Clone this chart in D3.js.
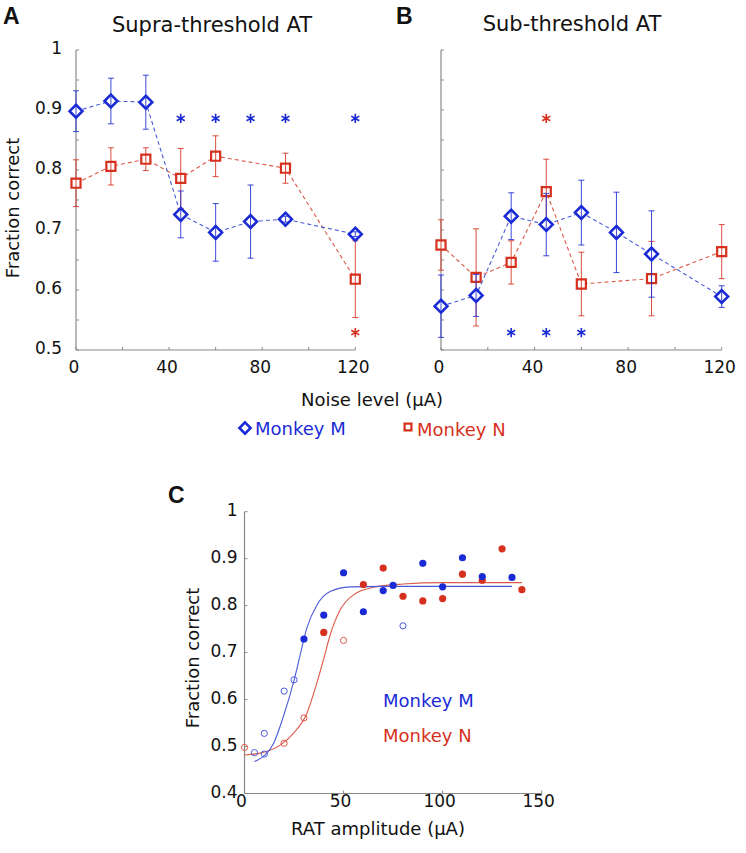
<!DOCTYPE html>
<html>
<head>
<meta charset="utf-8">
<script src="https://cdn.jsdelivr.net/npm/d3@7"></script>
<style>
  body { margin: 0; background: #fff; }
  text { font-family: "DejaVu Sans", sans-serif; fill: #111; }
</style>
</head>
<body>
<div id="chart"></div>
<script>
// panel A / B data (noise level in uA, fraction correct, error half-width)
const noiseM = [0, 15, 30, 45, 60, 75, 90, 120];
const noiseN = [0, 15, 30, 45, 60, 90, 120];

const supraM = [0.898, 0.915, 0.913, 0.726, 0.696, 0.714, 0.718, 0.693];
const supraMerr = [0.034, 0.038, 0.045, 0.039, 0.048, 0.061, 0.005, 0.004];
const supraN = [0.778, 0.806, 0.818, 0.786, 0.823, 0.803, 0.618];
const supraNerr = [0.039, 0.031, 0.019, 0.05, 0.034, 0.025, 0.064];

const subM = [0.573, 0.591, 0.723, 0.709, 0.729, 0.696, 0.660, 0.589];
const subMerr = [0.052, 0.035, 0.039, 0.052, 0.054, 0.067, 0.072, 0.018];
const subN = [0.675, 0.621, 0.646, 0.764, 0.610, 0.619, 0.664];
const subNerr = [0.042, 0.081, 0.036, 0.054, 0.053, 0.062, 0.045];

// significance stars
const starsSupraM = [45, 60, 75, 90, 120];
const starsSupraN = [120];
const starsSubM = [30, 45, 60];
const starsSubN = [45];

// panel C data (RAT amplitude, fraction correct)
const ratMfilledX = [30, 40, 50, 60, 70, 75, 90, 100, 110, 120, 135];
const ratMfilledY = [0.729, 0.780, 0.870, 0.787, 0.832, 0.843, 0.890, 0.840, 0.902, 0.862, 0.860];
const ratMopenX = [5, 10, 10, 20, 25, 80];
const ratMopenY = [0.487, 0.528, 0.484, 0.618, 0.642, 0.757];
const ratNfilledX = [40, 60, 70, 80, 90, 100, 110, 120, 130, 140];
const ratNfilledY = [0.743, 0.845, 0.880, 0.820, 0.810, 0.815, 0.867, 0.854, 0.921, 0.834];
const ratNopenX = [0, 20, 30, 50];
const ratNopenY = [0.498, 0.507, 0.561, 0.726];

// fitted curves
const fitMx = [5, 10.4, 14.6, 19.7, 24.7, 28.1, 31.5, 36.5, 43.2, 53.3, 70, 100, 135];
const fitMy = [0.468, 0.482, 0.506, 0.565, 0.636, 0.695, 0.753, 0.801, 0.830, 0.840, 0.841, 0.841, 0.841];
const fitNx = [0, 8, 18, 24.7, 31.5, 36.5, 39.8, 43.2, 48.3, 55, 65, 80, 100, 140];
const fitNy = [0.482, 0.486, 0.503, 0.528, 0.571, 0.635, 0.684, 0.737, 0.791, 0.823, 0.839, 0.846, 0.849, 0.849];

const yTicksAB = [0.5, 0.6, 0.7, 0.8, 0.9, 1];
const xTicksAB = [0, 40, 80, 120];
const yTicksC = [0.4, 0.5, 0.6, 0.7, 0.8, 0.9, 1];
const xTicksC = [0, 50, 100, 150];

const blue = "#1a2bd6", red = "#d6301e";
const blueLight = "#4a5bd8", redLight = "#dd5a48";
const axisColor = "#8a8a8a";

const width = 746, height = 853;
const svg = d3.select("#chart").append("svg")
    .attr("width", width)
    .attr("height", height);

// draw one axes frame (left + bottom, inward ticks)
function drawAxes(x, y, opts) {
  const g = svg.append("g");
  const [x0, x1] = x.range();
  const [y0, y1] = y.range();
  g.append("line").attr("x1", x0).attr("x2", x0).attr("y1", y0).attr("y2", y1)
    .attr("stroke", axisColor).attr("stroke-width", 1.2);
  g.append("line").attr("x1", x0).attr("x2", x1).attr("y1", y0).attr("y2", y0)
    .attr("stroke", axisColor).attr("stroke-width", 1.2);
  opts.yTickVals.forEach(v => {
    g.append("line").attr("x1", x0).attr("x2", x0 + 3).attr("y1", y(v)).attr("y2", y(v))
      .attr("stroke", axisColor);
  });
  opts.xTickVals.forEach(v => {
    g.append("line").attr("x1", x(v)).attr("x2", x(v)).attr("y1", y0).attr("y2", y0 - 3)
      .attr("stroke", axisColor);
  });
  if (opts.yLabels) {
    g.selectAll(".ytl").data(opts.yLabels).join("text")
      .attr("x", x0 - 14).attr("y", d => y(d) + 4)
      .attr("text-anchor", "end").style("font-size", "17px")
      .text(d => d3.format("")(d));
  }
  g.selectAll(".xtl").data(opts.xLabels).join("text")
    .attr("x", d => x(d) - 2).attr("y", y0 + opts.xLabelDy)
    .attr("text-anchor", "middle").style("font-size", "17px")
    .text(d => d);
  return g;
}

function errorPanel(x, y, xs, ys, es, color, lineColor, symbolType, size, sw) {
  const g = svg.append("g");
  const pts = xs.map((d, i) => [d, ys[i], es[i]]);
  g.append("path")
    .attr("d", d3.line().x(d => x(d[0])).y(d => y(d[1]))(pts))
    .attr("fill", "none").attr("stroke", lineColor).attr("stroke-width", 1.1)
    .attr("stroke-dasharray", "4,3");
  g.selectAll(".mk").data(pts).join("path")
    .attr("transform", d => `translate(${x(d[0])},${y(d[1])})`)
    .attr("d", d3.symbol().type(symbolType).size(size))
    .attr("fill", "#fff").attr("stroke", color).attr("stroke-width", sw);
  pts.forEach(d => {
    const cx = x(d[0]), top = y(d[1] + d[2]), bot = y(d[1] - d[2]);
    g.append("line").attr("x1", cx).attr("x2", cx).attr("y1", top).attr("y2", bot)
      .attr("stroke", color).attr("stroke-width", 1).attr("opacity", 0.85);
    [top, bot].forEach(yy => g.append("line")
      .attr("x1", cx - 3).attr("x2", cx + 3).attr("y1", yy).attr("y2", yy)
      .attr("stroke", color).attr("stroke-width", 1).attr("opacity", 0.85));
  });
}

function stars(x, y, xs, yv, color) {
  svg.append("g").selectAll("path").data(xs).join("path")
    .attr("transform", d => `translate(${x(d)},${y(yv)})`)
    .attr("d", d3.symbol().type(d3.symbolAsterisk).size(60))
    .attr("fill", "none").attr("stroke", color).attr("stroke-width", 1.6);
}

const yAB = d3.scaleLinear().domain([0.5, 1]).range([350, 50]);
const xA = d3.scaleLinear().domain([0, 120]).range([76, 355.3]);
const xB = d3.scaleLinear().domain([0, 120]).range([441, 721.7]);
const minorY = d3.range(0.5, 1.001, 0.05);
const minorX = d3.range(0, 121, 20);

// panel A
drawAxes(xA, yAB, { yTickVals: minorY, xTickVals: minorX, yLabels: yTicksAB, xLabels: xTicksAB, xLabelDy: 23 });
errorPanel(xA, yAB, noiseN, supraN, supraNerr, red, redLight, d3.symbolSquare2, 105, 2.2);
errorPanel(xA, yAB, noiseM, supraM, supraMerr, blue, blueLight, d3.symbolDiamond2, 105, 2.6);
stars(xA, yAB, starsSupraM, 0.886, blue);
stars(xA, yAB, starsSupraN, 0.529, red);

// panel B
drawAxes(xB, yAB, { yTickVals: minorY, xTickVals: minorX, yLabels: null, xLabels: xTicksAB, xLabelDy: 23 });
errorPanel(xB, yAB, noiseN, subN, subNerr, red, redLight, d3.symbolSquare2, 105, 2.2);
errorPanel(xB, yAB, noiseM, subM, subMerr, blue, blueLight, d3.symbolDiamond2, 105, 2.6);
stars(xB, yAB, starsSubN, 0.886, red);
stars(xB, yAB, starsSubM, 0.529, blue);

// titles and labels
svg.append("text").attr("x", 212).attr("y", 32).attr("text-anchor", "middle")
  .style("font-size", "21px").text("Supra-threshold AT");
svg.append("text").attr("x", 572).attr("y", 31).attr("text-anchor", "middle")
  .style("font-size", "21px").text("Sub-threshold AT");
svg.append("text").attr("transform", "translate(19,208) rotate(-90)").attr("text-anchor", "middle")
  .style("font-size", "18px").text("Fraction correct");
svg.append("text").attr("x", 372).attr("y", 406).attr("text-anchor", "middle")
  .style("font-size", "18px").text("Noise level (μA)");

[["A", 3, 24], ["B", 396, 24], ["C", 168, 503]].forEach(([t, px, py]) => {
  svg.append("text").attr("x", px).attr("y", py)
    .style("font-family", "'Liberation Sans', Arial, sans-serif")
    .style("font-weight", "bold").style("font-size", "23px").text(t);
});

// legend A/B
svg.append("path").attr("transform", "translate(245,428)")
  .attr("d", d3.symbol().type(d3.symbolDiamond2).size(80)())
  .attr("fill", "none").attr("stroke", blue).attr("stroke-width", 2.6);
svg.append("text").attr("x", 255).attr("y", 434.5).style("font-size", "18px")
  .style("fill", blue).text("Monkey M");
svg.append("path").attr("transform", "translate(408,427)")
  .attr("d", d3.symbol().type(d3.symbolSquare2).size(60)())
  .attr("fill", "none").attr("stroke", red).attr("stroke-width", 2.2);
svg.append("text").attr("x", 417).attr("y", 436).style("font-size", "18px")
  .style("fill", red).text("Monkey N");

// panel C
const xC = d3.scaleLinear().domain([0, 150]).range([244.5, 541.7]);
const yC = d3.scaleLinear().domain([0.4, 1]).range([793.5, 511.7]);
const gC = svg.append("g");
const [cx0, cx1] = xC.range(), [cy0, cy1] = yC.range();
gC.append("line").attr("x1", cx0).attr("x2", cx0).attr("y1", cy0).attr("y2", cy1)
  .attr("stroke", axisColor).attr("stroke-width", 1.2);
gC.append("line").attr("x1", cx0).attr("x2", cx1).attr("y1", cy0).attr("y2", cy0)
  .attr("stroke", axisColor).attr("stroke-width", 1.2);
yTicksC.forEach(v => {
  gC.append("line").attr("x1", cx0).attr("x2", cx0 + 3).attr("y1", yC(v)).attr("y2", yC(v))
    .attr("stroke", axisColor);
  gC.append("text").attr("x", cx0 - 7).attr("y", yC(v) + 4).attr("text-anchor", "end")
    .style("font-size", "17px").text(v);
});
xTicksC.forEach(v => {
  gC.append("line").attr("x1", xC(v)).attr("x2", xC(v)).attr("y1", cy0).attr("y2", cy0 - 3)
    .attr("stroke", axisColor);
  gC.append("text").attr("x", xC(v) - 3).attr("y", cy0 + 13).attr("text-anchor", "middle")
    .style("font-size", "17px").text(v);
});

const lineC = d3.line().curve(d3.curveMonotoneX).x(d => xC(d[0])).y(d => yC(d[1]));
gC.append("path").attr("d", lineC(fitNx.map((d, i) => [d, fitNy[i]])))
  .attr("fill", "none").attr("stroke", redLight).attr("stroke-width", 1.1);
gC.append("path").attr("d", lineC(fitMx.map((d, i) => [d, fitMy[i]])))
  .attr("fill", "none").attr("stroke", blueLight).attr("stroke-width", 1.1);

function dots(xs, ys, color, filled) {
  gC.append("g").selectAll("circle").data(xs.map((d, i) => [d, ys[i]])).join("circle")
    .attr("cx", d => xC(d[0])).attr("cy", d => yC(d[1]))
    .attr("r", filled ? 3.6 : 3.1)
    .attr("fill", filled ? color : "none")
    .attr("stroke", color).attr("stroke-width", filled ? 0 : 1);
}
dots(ratNopenX, ratNopenY, redLight, false);
dots(ratMopenX, ratMopenY, blueLight, false);
dots(ratNfilledX, ratNfilledY, red, true);
dots(ratMfilledX, ratMfilledY, blue, true);

gC.append("text").attr("x", 383).attr("y", 707).style("font-size", "18px")
  .style("fill", blue).text("Monkey M");
gC.append("text").attr("x", 383).attr("y", 742).style("font-size", "18px")
  .style("fill", red).text("Monkey N");
gC.append("text").attr("transform", "translate(199,658) rotate(-90)").attr("text-anchor", "middle")
  .style("font-size", "18px").text("Fraction correct");
gC.append("text").attr("x", 378).attr("y", 835).attr("text-anchor", "middle")
  .style("font-size", "18px").text("RAT amplitude (μA)");
</script>
</body>
</html>
